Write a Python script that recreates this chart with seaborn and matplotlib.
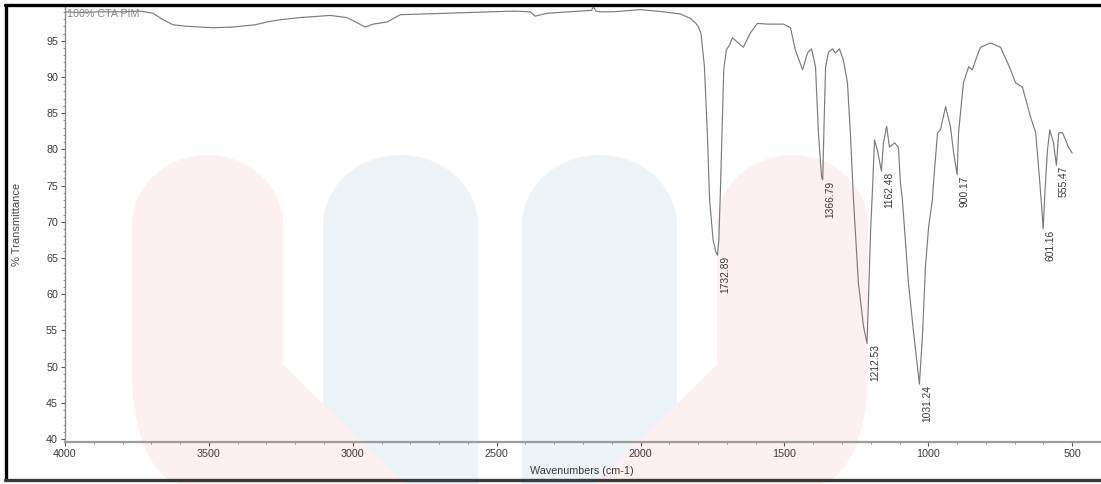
import numpy as np
import matplotlib
matplotlib.use("Agg")
import matplotlib.pyplot as plt
import seaborn as sns
from matplotlib.ticker import MultipleLocator, FixedLocator
from matplotlib.patches import Polygon
from matplotlib.lines import Line2D
from matplotlib import font_manager

# ---------------- data ----------------
wavenumber = [4000, 3950, 3878, 3800, 3739, 3694, 3659, 3624, 3576, 3485, 3416, 3340,
              3298, 3252, 3183, 3079, 3020, 2985, 2957, 2929, 2880, 2835, 2672, 2442,
              2383, 2366, 2324, 2209, 2170, 2164, 2155, 2140, 2095, 2001, 1921, 1862,
              1827, 1810, 1800, 1790, 1778, 1768, 1760, 1748, 1738, 1733, 1728, 1722,
              1716, 1711, 1702, 1690, 1681, 1663, 1643, 1618, 1594, 1559, 1503, 1479,
              1462, 1437, 1420, 1406, 1392, 1382, 1371, 1367, 1362, 1357, 1347, 1333,
              1323, 1309, 1295, 1281, 1271, 1260, 1243, 1225, 1213, 1208, 1201, 1194,
              1187, 1177, 1163, 1156, 1145, 1135, 1117, 1104, 1097, 1090, 1069, 1051,
              1038, 1031, 1020, 1010, 999, 986, 982, 968, 958, 940, 923, 912, 900, 895,
              878, 860, 847, 836, 819, 784, 749, 732, 714, 697, 673, 645, 627, 617, 606,
              601, 595, 586, 578, 565, 555, 547, 534, 523, 513, 500]
transmittance = [99.0, 98.9, 99.0, 99.0, 99.1, 98.8, 97.9, 97.2, 97.0, 96.8, 96.9, 97.2,
                 97.6, 97.9, 98.2, 98.5, 98.2, 97.5, 96.9, 97.3, 97.6, 98.6, 98.8, 99.1,
                 99.0, 98.4, 98.8, 99.1, 99.2, 99.7, 99.1, 99.0, 99.0, 99.3, 99.0, 98.7,
                 98.1, 97.5, 97.0, 96.0, 91.4, 82.3, 73.0, 67.5, 65.8, 65.4, 67.5, 75.0,
                 84.0, 91.0, 93.7, 94.5, 95.4, 94.8, 94.1, 96.1, 97.4, 97.3, 97.3, 96.8,
                 93.7, 91.0, 93.3, 93.9, 91.4, 82.3, 76.2, 75.8, 84.0, 91.4, 93.4, 93.9,
                 93.3, 93.9, 92.3, 89.2, 82.3, 73.0, 61.5, 55.5, 53.2, 59.2, 68.4, 74.5,
                 81.3, 79.9, 77.0, 80.9, 83.2, 80.3, 80.9, 80.3, 75.4, 73.0, 61.5, 54.6,
                 50.0, 47.6, 54.6, 63.8, 69.3, 73.0, 75.4, 82.3, 82.7, 85.9, 83.1, 79.5,
                 76.5, 82.3, 89.2, 91.4, 91.0, 92.3, 94.1, 94.7, 94.1, 92.6, 91.0, 89.2,
                 88.6, 84.5, 82.3, 77.6, 72.0, 69.0, 74.0, 79.9, 82.7, 80.9, 77.8, 82.3,
                 82.3, 81.3, 80.3, 79.5]

peak_labels = ["1732.89", "1366.79", "1212.53", "1162.48", "1031.24", "900.17", "601.16", "555.47"]
peak_wn = [1732.89, 1366.79, 1212.53, 1162.48, 1031.24, 900.17, 601.16, 555.47]
peak_T = [65.4, 75.8, 53.2, 77.0, 47.6, 76.5, 69.0, 77.8]

x_ticks = [4000, 3500, 3000, 2500, 2000, 1500, 1000, 500]
y_ticks = [40, 45, 50, 55, 60, 65, 70, 75, 80, 85, 90, 95]

sample_name = "100% CTA PIM"
x_label = "Wavenumbers (cm-1)"
y_label = "% Transmittance"

# ---------------- style ----------------
sns.set_theme(style="white")
names = {f.name for f in font_manager.fontManager.ttflist}
narrow = "Liberation Sans Narrow" if "Liberation Sans Narrow" in names else "Liberation Sans"
narrow_scale = 1.0 if narrow == "Liberation Sans Narrow" else 0.86
plt.rcParams["font.family"] = ["Liberation Sans", "DejaVu Sans"]

W, H = 1101, 484
fig = plt.figure(figsize=(W / 100, H / 100), dpi=100)
fig.patch.set_facecolor("white")

# ---------------- background watermark (decoration) ----------------
bg = fig.add_axes([0, 0, 1, 1], zorder=0)
bg.set_xlim(0, W)
bg.set_ylim(H, 0)
bg.axis("off")


def arch(x0, x1, top, ry, n=40):
    cx, rx = (x0 + x1) / 2, (x1 - x0) / 2
    t = np.linspace(np.pi, 0, n)
    return list(zip(cx + rx * np.cos(t), top + ry - ry * np.sin(t)))


blue_c = "#eef3f7"
pink_c = "#fdf0f0"
for x0, x1 in [(323, 478), (522, 677)]:
    pts = arch(x0, x1, 155, 70) + [(x1, H), (x0, H)]
    bg.add_patch(Polygon(pts, closed=True, facecolor=blue_c, edgecolor="none"))

t = np.linspace(np.pi / 2, np.pi, 20)
curve = list(zip(183 + 51 * np.cos(t), 375 + 109 * np.sin(t)))
pink_left = arch(132, 283, 155, 70) + [(283, 365), (405, H), (183, H)] + curve
pink_right = [(1000 - x, y) for x, y in pink_left]
for pts in (pink_left, pink_right):
    bg.add_patch(Polygon(pts, closed=True, facecolor=pink_c, edgecolor="none"))

# ---------------- main axes ----------------
left_px, right_px, top_px, bottom_px = 65, 1101, 6, 442
ax = fig.add_axes([left_px / W, 1 - bottom_px / H,
                   (right_px - left_px) / W, (bottom_px - top_px) / H], zorder=1)
ax.set_facecolor("none")

sns.lineplot(x=wavenumber, y=transmittance, ax=ax, sort=False, estimator=None,
             color="#7c7c7c", linewidth=0.85)

ax.set_xlim(4000, 400)
ax.set_ylim(39.6, 99.8)

ax.xaxis.set_major_locator(FixedLocator(x_ticks))
ax.xaxis.set_minor_locator(MultipleLocator(100))
ax.yaxis.set_major_locator(FixedLocator(y_ticks))
ax.yaxis.set_minor_locator(MultipleLocator(1))
ax.set_xticklabels([str(v) for v in x_ticks])
ax.set_yticklabels([str(v) for v in y_ticks])

for s in ("top", "right"):
    ax.spines[s].set_visible(False)
ax.spines["left"].set_color("#8c8c8c")
ax.spines["left"].set_linestyle((0, (1, 1)))
ax.spines["left"].set_linewidth(1.0)
ax.spines["bottom"].set_color("#9c9c9c")
ax.spines["bottom"].set_linewidth(1.6)

tick_fs = 9 * narrow_scale
ax.tick_params(axis="both", which="major", direction="out", length=3, width=0.8,
               color="#555555", labelcolor="#3c3c3c", labelsize=tick_fs, pad=2,
               left=True, bottom=True)
ax.tick_params(axis="both", which="minor", direction="out", length=1.5, width=0.6,
               color="#777777", left=True, bottom=True)
for lab in ax.get_xticklabels() + ax.get_yticklabels():
    lab.set_family(narrow)

ax.set_xlabel(x_label, fontsize=9 * narrow_scale, color="#3c3c3c", family=narrow)
ax.xaxis.set_label_coords(0.499, -0.055)
ax.set_ylabel(y_label, fontsize=8, color="#4a4a4a")
ax.yaxis.set_label_coords(-0.0415, 0.5)

ax.text(0.002, 0.994, sample_name, transform=ax.transAxes, ha="left", va="top",
        fontsize=9 * narrow_scale, color="#8a8a8a", family=narrow)

for lab, xw, yt in zip(peak_labels, peak_wn, peak_T):
    ax.annotate(lab, xy=(xw, yt), xytext=(5.5, -0.5), textcoords="offset points",
                rotation=90, ha="center", va="top", fontsize=7.4, color="#3a3a3a")

# ---------------- outer frame ----------------
fig.add_artist(Line2D([5 / W, 1], [1 - 5 / H] * 2, color="black", lw=2.4,
                      transform=fig.transFigure))
fig.add_artist(Line2D([6 / W] * 2, [1 - 5 / H, 1 - 480 / H], color="black", lw=2.4,
                      transform=fig.transFigure))
fig.add_artist(Line2D([5 / W, 1], [1 - 480 / H] * 2, color="#3a3a3a", lw=2.4,
                      transform=fig.transFigure))

fig.savefig("out.png", dpi=100, facecolor="white")
